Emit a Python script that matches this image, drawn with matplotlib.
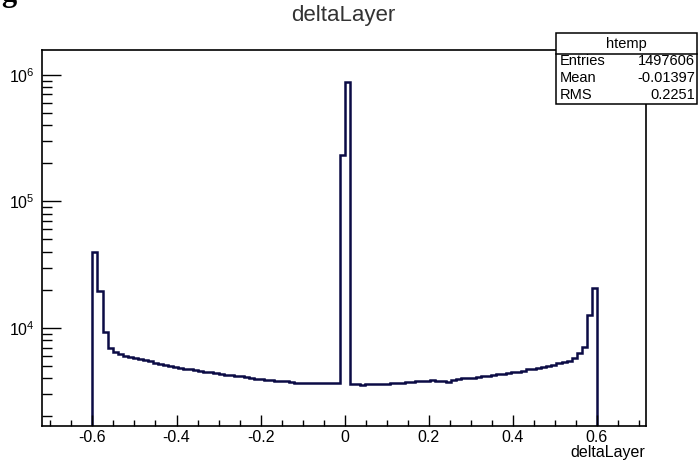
import numpy as np
import matplotlib
matplotlib.use("Agg")
import matplotlib.pyplot as plt
from matplotlib.ticker import MultipleLocator, LogLocator, NullFormatter
from matplotlib.patches import Rectangle
from matplotlib.lines import Line2D

# ---------------- data ----------------
bin_low = -0.6
bin_high = 0.6
n_bins = 100
counts = [
    39500, 19700, 9300, 6900, 6500, 6250, 6050, 5900, 5750, 5650,
    5550, 5450, 5300, 5200, 5100, 5000, 4950, 4850, 4750, 4700,
    4650, 4580, 4500, 4450, 4400, 4330, 4280, 4250, 4200, 4150,
    4100, 4000, 3950, 3950, 3880, 3850, 3820, 3780, 3800, 3720,
    3700, 3690, 3680, 3680, 3680, 3680, 3680, 3680, 3680, 234000,
    880000, 3620, 3600, 3550, 3600, 3580, 3600, 3620, 3600, 3650,
    3680, 3700, 3720, 3750, 3780, 3800, 3820, 3850, 3800, 3780,
    3750, 3900, 3950, 4000, 4020, 4050, 4100, 4160, 4200, 4250,
    4350, 4300, 4400, 4500, 4480, 4600, 4700, 4750, 4850, 4900,
    5000, 5100, 5250, 5400, 5500, 5800, 6300, 7100, 12600, 20700,
]
x_ticks = [-0.6, -0.4, -0.2, 0.0, 0.2, 0.4, 0.6]
x_tick_labels = ["-0.6", "-0.4", "-0.2", "0", "0.2", "0.4", "0.6"]
title = "deltaLayer"
x_label = "deltaLayer"
stats_name = "htemp"
stats_rows = [("Entries", "1497606"), ("Mean", "-0.01397"), ("RMS", "0.2251")]

# ---------------- figure ----------------
W, H = 699, 461
plt.rcParams['font.family'] = ['Liberation Sans', 'DejaVu Sans']
plt.rcParams['axes.unicode_minus'] = False
fig = plt.figure(figsize=(W / 100, H / 100), dpi=100)
fig.patch.set_facecolor('white')

def fx(px):
    return px / W

def fy(py):
    return 1 - py / H

left, right, top, bottom = 42, 646, 50, 426
ax = fig.add_axes([fx(left), fy(bottom), fx(right - left), (bottom - top) / H])

edges = np.linspace(bin_low, bin_high, n_bins + 1)
line_color = '#0b0b45'
ax.stairs(counts, edges, baseline=1.0, color=line_color, lw=1.8)

ax.set_yscale('log')
ax.set_xlim(-0.72, 0.717)
ax.set_ylim(1680, 1.57e6)

ax.set_xticks(x_ticks)
ax.set_xticklabels(x_tick_labels)
ax.xaxis.set_minor_locator(MultipleLocator(0.05))
ax.yaxis.set_major_locator(LogLocator(base=10))
ax.yaxis.set_minor_locator(LogLocator(base=10, subs=np.arange(2, 10)))
ax.yaxis.set_minor_formatter(NullFormatter())

ax.tick_params(axis='both', which='both', direction='in', colors='black',
               width=1.0, labelsize=11.5)
ax.xaxis.set_tick_params(which='major', length=8, pad=3)
ax.xaxis.set_tick_params(which='minor', length=4)
ax.yaxis.set_tick_params(which='major', length=14, pad=5)
ax.yaxis.set_tick_params(which='minor', length=7)

for s in ax.spines.values():
    s.set_linewidth(1.2)
    s.set_color('black')

# title
fig.text(fx(343), fy(16), title, ha='center', va='center', fontsize=16,
         color='#333333')
# x axis label (right aligned at the end of the axis)
fig.text(fx(645), fy(452), x_label, ha='right', va='center', fontsize=11.5)

# stats box
bx0, bx1, by0, by1, bhead = 556, 697, 33.3, 104, 54.3
rect = Rectangle((fx(bx0), fy(by1)), fx(bx1 - bx0), (by1 - by0) / H,
                 transform=fig.transFigure, facecolor='white',
                 edgecolor='black', lw=1.1, zorder=10)
fig.add_artist(rect)
fig.add_artist(Line2D([fx(bx0), fx(bx1)], [fy(bhead), fy(bhead)],
                      transform=fig.transFigure, color='black', lw=1.1,
                      zorder=11))
fig.text(fx((bx0 + bx1) / 2), fy((by0 + bhead) / 2), stats_name,
         ha='center', va='center', fontsize=10.5, zorder=12)
row_y = [61, 78, 95]
for (k, v), yy in zip(stats_rows, row_y):
    fig.text(fx(bx0 + 4), fy(yy), k, ha='left', va='center', fontsize=10.5,
             zorder=12)
    fig.text(fx(bx1 - 2), fy(yy), v, ha='right', va='center', fontsize=10.5,
             zorder=12)

# fragment of a glyph cut off at the top-left corner of the screenshot
fig.text(fx(1), fy(1.5), "g", ha='left', va='baseline', fontsize=22,
         fontweight='bold', family=['Liberation Serif', 'DejaVu Serif'])

fig.savefig('out.png', dpi=100, facecolor='white')
